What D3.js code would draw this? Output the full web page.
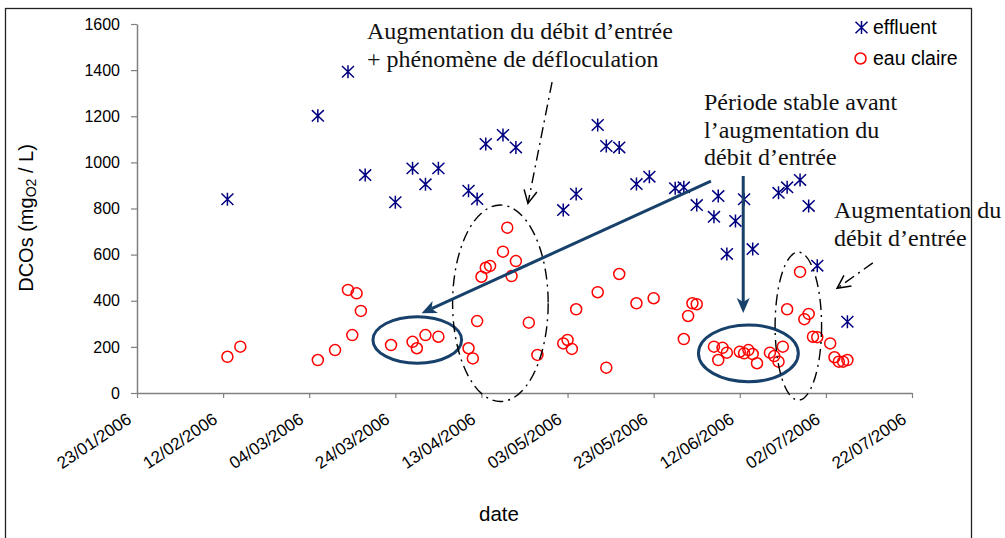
<!DOCTYPE html>
<html><head><meta charset="utf-8">
<script src="https://cdn.jsdelivr.net/npm/d3@7"></script>
<style>body{margin:0;background:#fff}svg{display:block}</style>
</head><body><svg id="c" width="1005" height="538"></svg>
<script>
// ---- data ----
const effluentDates = ["13/02/2006","06/03/2006","13/03/2006","17/03/2006","24/03/2006","28/03/2006","31/03/2006","03/04/2006","10/04/2006","12/04/2006","14/04/2006","18/04/2006","21/04/2006","02/05/2006","05/05/2006","10/05/2006","12/05/2006","15/05/2006","19/05/2006","22/05/2006","28/05/2006","30/05/2006","02/06/2006","07/06/2006","06/06/2006","09/06/2006","11/06/2006","13/06/2006","15/06/2006","21/06/2006","23/06/2006","26/06/2006","28/06/2006","30/06/2006","07/07/2006"];
const effluentValues = [840,1202,1393,945,827,974,905,974,877,841,1080,1119,1065,793,863,1162,1071,1065,906,938,888,892,815,854,764,603,746,840,624,868,892,924,811,552,309];
const eauClaireDates = ["13/02/2006","16/02/2006","06/03/2006","10/03/2006","13/03/2006","15/03/2006","16/03/2006","14/03/2006","23/03/2006","28/03/2006","29/03/2006","31/03/2006","03/04/2006","10/04/2006","11/04/2006","12/04/2006","13/04/2006","14/04/2006","15/04/2006","18/04/2006","19/04/2006","20/04/2006","21/04/2006","24/04/2006","26/04/2006","02/05/2006","03/05/2006","04/05/2006","05/05/2006","10/05/2006","12/05/2006","15/05/2006","19/05/2006","23/05/2006","30/05/2006","31/05/2006","01/06/2006","02/06/2006","06/06/2006","07/06/2006","08/06/2006","09/06/2006","12/06/2006","13/06/2006","14/06/2006","15/06/2006","16/06/2006","19/06/2006","20/06/2006","21/06/2006","22/06/2006","23/06/2006","26/06/2006","27/06/2006","28/06/2006","29/06/2006","30/06/2006","03/07/2006","04/07/2006","05/07/2006","06/07/2006","07/07/2006"];
const eauClaireValues = [157,201,143,186,447,432,356,251,208,222,194,251,244,194,150,312,504,543,551,613,717,507,572,305,165,215,230,191,363,437,110,516,389,411,234,334,389,385,201,143,196,175,179,172,186,169,129,175,160,136,201,363,525,320,343,244,242,215,155,136,136,143];
const xTickLabels = ["23/01/2006","12/02/2006","04/03/2006","24/03/2006","13/04/2006","03/05/2006","23/05/2006","12/06/2006","02/07/2006","22/07/2006"];
const yTickValues = [0,200,400,600,800,1000,1200,1400,1600];
const seriesNames = ["effluent","eau claire"];

// ---- setup ----
const parse = d3.utcParse("%d/%m/%Y");
const fmt = d3.utcFormat("%d/%m/%Y");
const svg = d3.select("#c");
const W = 1005, H = 538;
const plot = {left:137, right:912, top:24, bottom:393};
const navy = "#17406b";
const sans = "Liberation Sans, Arial, sans-serif";

svg.append("rect").attr("x",0).attr("y",0).attr("width",W).attr("height",H).attr("fill","#fff");
svg.append("rect").attr("x",5.5).attr("y",8.5).attr("width",966).attr("height",540)
  .attr("fill","none").attr("stroke","#222").attr("stroke-width",1.3);

const xTicks = xTickLabels.map(parse);
const x = d3.scaleUtc().domain([xTicks[0], xTicks[xTicks.length-1]]).range([plot.left, plot.right]);
const y = d3.scaleLinear().domain([0,1600]).range([plot.bottom, plot.top]);
const day = 86400000;
const xd = d => x(new Date(xTicks[0].getTime() + d*day));

// axes
const gx = svg.append("g").attr("transform",`translate(0,${plot.bottom})`)
  .call(d3.axisBottom(x).tickValues(xTicks).tickFormat(fmt).tickSize(5).tickSizeOuter(0));
gx.attr("font-size",null).attr("font-family",null);
gx.select(".domain").attr("stroke","#808080").attr("stroke-width",1.5);
gx.selectAll(".tick line").attr("stroke","#808080").attr("stroke-width",1.2);
gx.selectAll(".tick text")
  .style("font-family",sans).style("font-size","17px").attr("fill","#000")
  .attr("text-anchor","end").attr("dy",0).attr("y",0)
  .attr("transform","translate(-5,29) rotate(-34)");

const gy = svg.append("g").attr("transform",`translate(${plot.left},0)`)
  .call(d3.axisLeft(y).tickValues(yTickValues).tickFormat(d3.format("d")).tickSize(6).tickPadding(11).tickSizeOuter(0));
gy.attr("font-size",null).attr("font-family",null);
gy.select(".domain").attr("stroke","#808080").attr("stroke-width",1.5);
gy.selectAll(".tick line").attr("stroke","#808080").attr("stroke-width",1.2);
gy.selectAll(".tick text").style("font-family",sans).style("font-size","16px").attr("fill","#000");

// axis titles
svg.append("text").attr("x",499).attr("y",521).attr("text-anchor","middle")
  .style("font-family",sans).style("font-size","20.5px").text("date");
const yl = svg.append("text").attr("transform","translate(33,218) rotate(-90)").attr("text-anchor","middle")
  .style("font-family",sans).style("font-size","20px");
yl.append("tspan").text("DCOs (mg");
yl.append("tspan").style("font-size","14px").attr("dy",3).text("O2");
yl.append("tspan").attr("dy",-3).text(" / L)");

// markers
const starType = {draw(ctx, size){ const r=6.5, a=6; ctx.moveTo(0,-r); ctx.lineTo(0,r); ctx.moveTo(-a,-a*0.95); ctx.lineTo(a,a*0.95); ctx.moveTo(-a,a*0.95); ctx.lineTo(a,-a*0.95);} };
const star = d3.symbol().type(starType).size(100);

const eff = effluentDates.map((d,i)=>({date:parse(d), v:effluentValues[i]}));
const eau = eauClaireDates.map((d,i)=>({date:parse(d), v:eauClaireValues[i]}));

svg.append("g").selectAll("circle").data(eau).join("circle")
  .attr("cx",d=>x(d.date)).attr("cy",d=>y(d.v)).attr("r",5.5)
  .attr("fill","none").attr("stroke","#ff0000").attr("stroke-width",1.5);
svg.append("g").selectAll("path").data(eff).join("path")
  .attr("transform",d=>`translate(${x(d.date)},${y(d.v)})`).attr("d",star)
  .attr("fill","none").attr("stroke","#000080").attr("stroke-width",1.5);

// legend
const lg = svg.append("g");
lg.append("path").attr("transform","translate(861.5,27.5)").attr("d",star).attr("fill","none").attr("stroke","#000080").attr("stroke-width",1.5);
lg.append("circle").attr("cx",860.5).attr("cy",58.5).attr("r",5.5).attr("fill","none").attr("stroke","#ff0000").attr("stroke-width",1.5);
lg.selectAll("text").data(seriesNames).join("text").attr("x",873).attr("y",(d,i)=>34+i*31)
  .style("font-family",sans).style("font-size","19.5px").text(d=>d);

// annotations (in data space)
const ann = svg.append("g");
function ellipse(cd, cv, rd, rv, style){
  const e = ann.append("ellipse").attr("cx",xd(cd)).attr("cy",y(cv))
    .attr("rx",xd(cd+rd)-xd(cd)).attr("ry",y(cv-rv)-y(cv)).attr("fill","none");
  if(style==="solid") e.attr("stroke",navy).attr("stroke-width",3);
  else e.attr("stroke","#000").attr("stroke-width",1.4).attr("stroke-dasharray","11,5,2,5");
}
ellipse(65.1,230,10.3,101,"solid");
ellipse(142.0,172,11.6,123,"solid");
ellipse(84.4,389,11.1,426,"dash");
ellipse(153.6,290,5.4,321,"dash");

function arrow(d1,v1,d2,v2,style){
  const x1=xd(d1), y1=y(v1), x2=xd(d2), y2=y(v2);
  const ang = Math.atan2(y2-y1, x2-x1);
  const ux=Math.cos(ang), uy=Math.sin(ang), px=-uy, py=ux;
  if(style==="solid"){
    const L=15, Wd=6.5, N=4;
    ann.append("line").attr("x1",x1).attr("y1",y1).attr("x2",x2-ux*(L-N)).attr("y2",y2-uy*(L-N))
      .attr("stroke",navy).attr("stroke-width",3);
    const pts=[[x2,y2],[x2-ux*L+px*Wd,y2-uy*L+py*Wd],[x2-ux*(L-N),y2-uy*(L-N)],[x2-ux*L-px*Wd,y2-uy*L-py*Wd]];
    ann.append("path").attr("d","M"+pts.map(p=>p.join(",")).join("L")+"Z").attr("fill",navy);
  } else {
    ann.append("line").attr("x1",x1).attr("y1",y1).attr("x2",x2).attr("y2",y2)
      .attr("stroke","#000").attr("stroke-width",1.4).attr("stroke-dasharray","11,5,2,5");
    const L=13, Wd=6.5;
    ann.append("path").attr("d",`M${x2-ux*L+px*Wd},${y2-uy*L+py*Wd}L${x2},${y2}L${x2-ux*L-px*Wd},${y2-uy*L-py*Wd}`)
      .attr("fill","none").attr("stroke","#000").attr("stroke-width",1.5);
  }
}
arrow(133.3,919,66.1,346,"solid");
arrow(140.8,941,140.8,347,"solid");
arrow(96.4,1348,90.8,822,"dash");
arrow(170.9,564,162.6,454,"dash");

// annotation texts
const notes = [
  {x:367, y:39, lines:["Augmentation du débit d’entrée","+ phénomène de défloculation"]},
  {x:704, y:110, lines:["Période stable avant","l’augmentation du","débit d’entrée"]},
  {x:834, y:218, lines:["Augmentation du","débit d’entrée"]}
];
notes.forEach(n=>{
  const t = svg.append("text").style("font-family","Liberation Serif, Times New Roman, serif").style("font-size","24px").attr("fill","#111");
  n.lines.forEach((l,i)=>t.append("tspan").attr("x",n.x).attr("y",n.y+i*27.6).text(l));
});
</script>
</body></html>
